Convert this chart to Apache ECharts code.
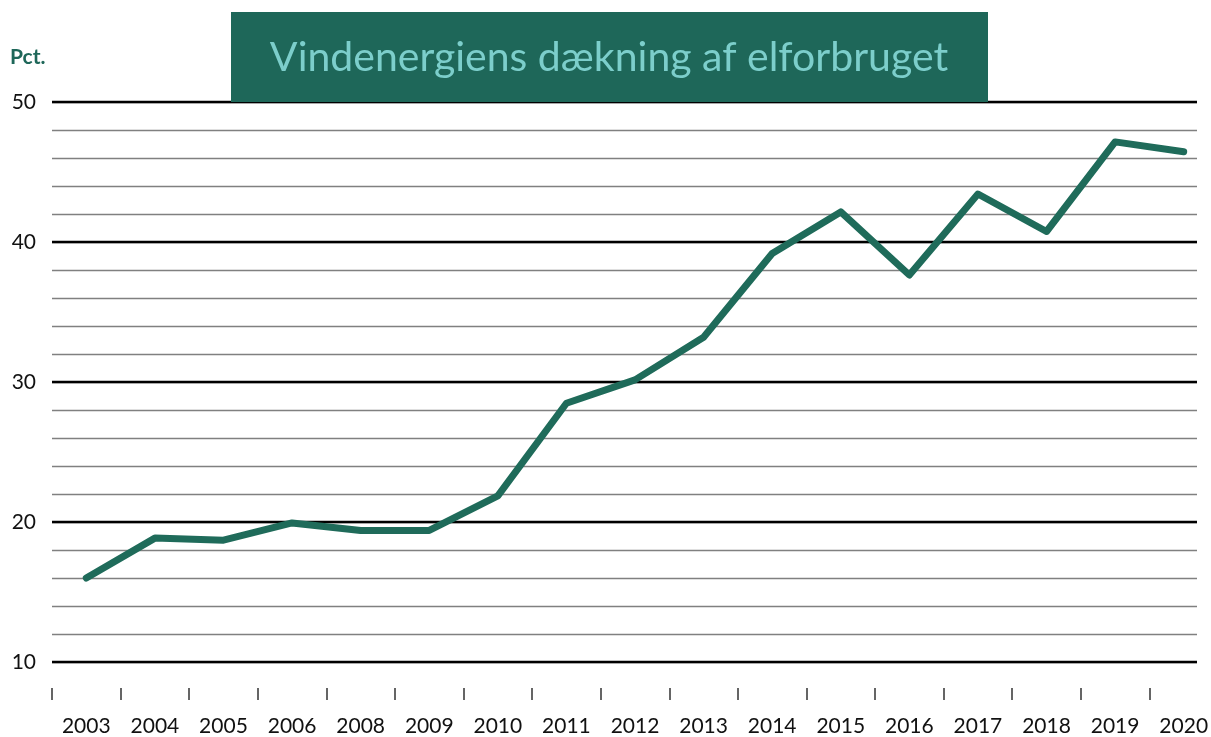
<!DOCTYPE html>
<html>
<head>
<meta charset="utf-8">
<script src="https://cdn.jsdelivr.net/npm/echarts@6/dist/echarts.min.js"></script>
<style>
html,body{margin:0;padding:0;background:#fff;overflow:hidden;}
#chart{width:1240px;height:737px;}
</style>
</head>
<body>
<div id="chart"></div>
<script>
const years = ['2003','2004','2005','2006','2008','2009','2010','2011','2012','2013','2014','2015','2016','2017','2018','2019','2020'];
const windShare = [16.0,18.85,18.7,19.93,19.4,19.4,21.87,28.48,30.15,33.2,39.18,42.15,37.64,43.43,40.75,47.15,46.45];
const yMin = 10, yMax = 50, majorStep = 10, minorStep = 2;
const titleText = 'Vindenergiens dækning af elforbruget';
const unitText = 'Pct.';

const FONT = 'Lato, "Open Sans", sans-serif';
const chart = echarts.init(document.getElementById('chart'));
chart.setOption({
  animation: false,
  backgroundColor: '#ffffff',
  grid: [
    {left: 52, width: 1166, top: 102, height: 560},
    {left: 52, width: 1145, top: 102, height: 560}
  ],
  xAxis: [
    {
      type: 'category', gridIndex: 0, data: years, boundaryGap: true,
      position: 'bottom', offset: 26,
      axisLine: {show: false},
      axisTick: {show: true, length: 12, lineStyle: {color: '#333', width: 1.5}},
      axisLabel: {show: true, margin: 28, fontSize: 21, color: '#111', fontFamily: FONT, interval: 0},
      splitLine: {show: false}
    },
    {type: 'value', gridIndex: 1, show: false, min: 0, max: 1}
  ],
  yAxis: [
    {type: 'value', gridIndex: 0, min: yMin, max: yMax, show: false},
    {
      type: 'value', gridIndex: 1, min: yMin, max: yMax, interval: minorStep,
      axisLine: {show: false}, axisTick: {show: false}, axisLabel: {show: false},
      splitLine: {show: true, lineStyle: {color: '#808080', width: 1.3}}
    },
    {
      type: 'value', gridIndex: 1, min: yMin, max: yMax, interval: majorStep, position: 'left',
      axisLine: {show: false}, axisTick: {show: false},
      axisLabel: {show: true, margin: 16, fontSize: 21, color: '#111', fontFamily: FONT},
      splitLine: {show: true, lineStyle: {color: '#000', width: 2.4}}
    }
  ],
  series: [{
    type: 'line', xAxisIndex: 0, yAxisIndex: 0, data: windShare,
    symbol: 'none', z: 5,
    lineStyle: {color: '#1f6b5a', width: 7, cap: 'round', join: 'round'}
  }],
  graphic: [
    {type: 'rect', left: 231, top: 12, shape: {width: 757, height: 90}, style: {fill: '#1e6759'}, z: 10},
    {type: 'text', x: 609, y: 58, style: {text: titleText, fill: '#7ccecb', fontSize: 41, fontFamily: FONT, textAlign: 'center', textVerticalAlign: 'middle'}, z: 11},
    {type: 'text', x: 10, y: 57, style: {text: unitText, fill: '#1e6759', fontSize: 21, fontWeight: 'bold', fontFamily: FONT, textAlign: 'left', textVerticalAlign: 'middle'}, z: 11}
  ]
});
</script>
</body>
</html>
